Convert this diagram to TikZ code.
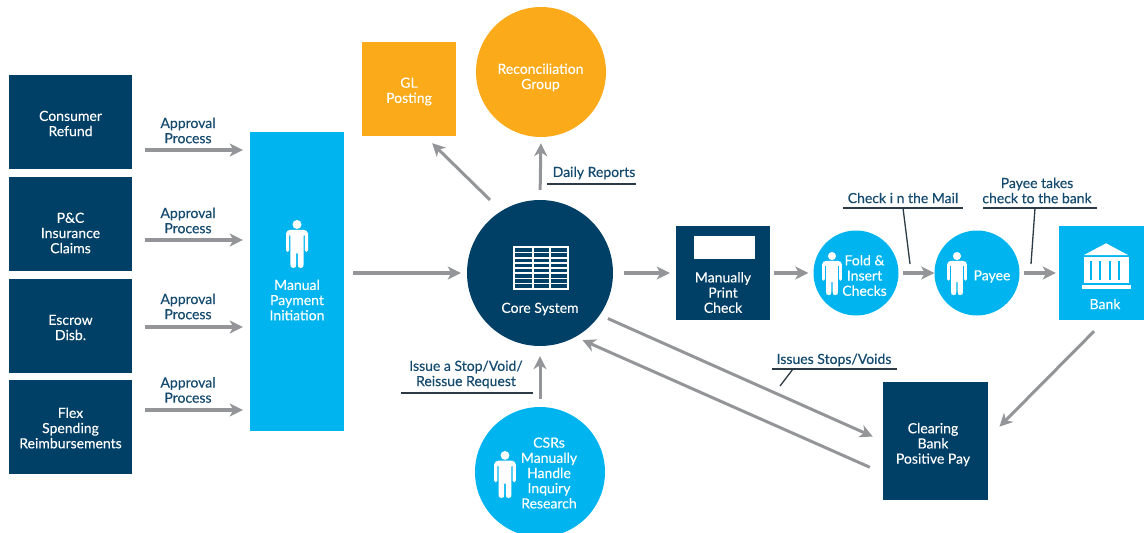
\documentclass[tikz,border=0pt]{standalone}
\usepackage{fontspec}
\setmainfont[FakeBold=0.12]{Lato}
\newfontfamily\lblfont[FakeBold=0.35]{Lato}
\usetikzlibrary{arrows.meta,calc}
\definecolor{navy}{HTML}{003F66}
\definecolor{sky}{HTML}{00B5EF}
\definecolor{amber}{HTML}{FBAA19}
\definecolor{flow}{HTML}{939598}
\definecolor{ink}{HTML}{164B70}
\definecolor{rulecol}{HTML}{2B3A45}
\tikzset{
  box/.style={draw=none,rectangle,inner sep=0pt},
  disc/.style={draw=none,circle,inner sep=0pt},
  wtext/.style={inner sep=0pt,align=center,text=white,font=\fontsize{14}{15.2}\selectfont},
  lbl/.style={inner sep=0pt,align=center,text=ink,font=\lblfont\fontsize{14}{15.2}\selectfont},
  arr/.style={draw=flow,line width=3.5pt,-{Stealth[length=13pt,width=13pt,inset=3.5pt]}},
  thinarr/.style={draw=flow,line width=3pt,-{Stealth[length=13pt,width=13pt,inset=4pt]}},
  lrule/.style={draw=rulecol,line width=1.3pt},
}
% person icon: #1 centre x, #2 top y, #3 scale
\newcommand{\personicon}[3]{%
  \begin{scope}[shift={(#1,#2)},scale=#3]
    \fill[white] (0,4.5) circle (4.5);
    \fill[white,rounded corners=1.6pt] (-11,12) -- (-8,9.8) -- (8,9.8) -- (11,12) -- (11,32) -- (7.8,32) -- (7.8,14) -- (6.6,14)
      -- (6.6,46) -- (5.5,48) -- (1.8,48) -- (0.8,46) -- (0.8,32) -- (-0.8,32) -- (-0.8,46) -- (-1.8,48) -- (-5.5,48) -- (-6.6,46)
      -- (-6.6,14) -- (-7.8,14) -- (-7.8,32) -- (-11,32) -- cycle;
  \end{scope}}
\begin{document}
\begin{tikzpicture}[x=1pt,y=-1pt]
\useasboundingbox (0,0) rectangle (1144,533);
\clip (0,0) rectangle (1144,533);
% left boxes
\node[box,fill=navy,minimum width=123pt,minimum height=94pt] (a1) at (70.5,122) {};
\node[wtext] (a1t) at (70.5,123.5) {Consumer\\Refund};
\node[box,fill=navy,minimum width=123pt,minimum height=94pt] (a2) at (70.5,224) {};
\node[wtext] (a2t) at (70.5,233) {P\&C\\Insurance\\Claims};
\node[box,fill=navy,minimum width=123pt,minimum height=94pt] (a3) at (70.5,326) {};
\node[wtext] (a3t) at (70.5,327.5) {Escrow\\Disb.};
\node[box,fill=navy,minimum width=123pt,minimum height=94pt] (a4) at (70.5,427) {};
\node[wtext] (a4t) at (70.5,428) {Flex\\Spending\\Reimbursements};
% approval labels
\node[lbl] (p1) at (188,130.5) {Approval\\Process};
\node[lbl] (p2) at (188,220.5) {Approval\\Process};
\node[lbl] (p3) at (188,306.5) {Approval\\Process};
\node[lbl] (p4) at (188,390) {Approval\\Process};
% manual payment
\node[box,fill=sky,minimum width=94pt,minimum height=299pt] (man) at (297,281.5) {};
\node[wtext] (mant) at (297,300) {Manual\\Payment\\Initiation};
\personicon{297}{220}{1}
% GL and reconciliation
\node[box,fill=amber,minimum width=94pt,minimum height=94pt] (gl) at (409,89) {};
\node[wtext] (glt) at (409,91.5) {GL\\Posting};
\node[disc,fill=amber,minimum size=130pt] (rec) at (541,72) {};
\node[wtext] (rect) at (540.5,77.5) {Reconciliation\\Group};
% core
\node[disc,fill=navy,minimum size=146pt] (core) at (540,273) {};
\node[wtext] (coret) at (540,309) {Core System};
\fill[white] (513,246) rectangle (569,290);
\foreach \r in {0,...,7}{\fill[navy] (515.3,248.3+\r*5.1) rectangle (532.4,252+\r*5.1);
  \fill[navy] (534,248.3+\r*5.1) rectangle (549.4,252+\r*5.1);
  \fill[navy] (551.2,248.3+\r*5.1) rectangle (566.8,252+\r*5.1);}
% print check
\node[box,fill=navy,minimum width=94pt,minimum height=94pt] (prn) at (723,273) {};
\fill[white] (694,236) rectangle (755,259);
\node[wtext] (prnt) at (723,292.5) {Manually\\Print\\Check};
% fold
\node[disc,fill=sky,minimum size=85pt] (fold) at (856,273) {};
\node[wtext] (foldt) at (864.5,275.5) {Fold \&\\Insert\\Checks};
\personicon{832}{252}{0.9}
% payee
\node[disc,fill=sky,minimum size=85pt] (pay) at (977,273) {};
\node[wtext] (payt) at (992,276.5) {Payee};
\personicon{957}{252}{0.9}
% bank
\node[box,fill=sky,minimum width=85pt,minimum height=94pt] (bank) at (1101.5,273) {};
\node[wtext] (bankt) at (1105,304) {Bank};
\fill[white] (1084,255) -- (1106,243.3) -- (1128,255) -- cycle;
\fill[white] (1083.5,256.5) rectangle (1128.5,283);
\foreach \c in {1089.5,1099,1108.5,1118}{\fill[sky] (\c,260.5) rectangle (\c+2.2,279.5);}
\fill[white] (1082,285) rectangle (1131,289);
% CSR
\node[disc,fill=sky,minimum size=130pt] (csr) at (540,472) {};
\node[wtext] (csrt) at (549,473) {CSRs\\Manually\\Handle\\Inquiry\\Research};
\personicon{505}{451}{0.98}
% clearing
\node[box,fill=navy,minimum width=105pt,minimum height=118pt] (clr) at (935.5,441) {};
\node[wtext] (clrt) at (933,444.5) {Clearing\\Bank\\Positive Pay};
% labels
\node[lbl] (ldr) at (594,173) {Daily Reports};
\node[lbl] (lmail) at (903,198) {Check i n the Mail};
\node[lbl] (lpay) at (1037,190.5) {Payee takes\\check to the bank};
\node[lbl] (liss) at (466,374.5) {Issue a Stop/Void/\\Reissue Request};
\node[lbl] (lstop) at (834,360) {Issues Stops/Voids};
% label rules and leaders
\coordinate (mailend) at (910,264);
\coordinate (payend) at (1031,264);
\coordinate (stopend) at (780,386);
\draw[lrule] (547,184) -- (636,184);
\draw[lrule] (843,208) -- (963,208);
\draw[lrule] (903,208) -- (mailend);
\draw[lrule] (983,208) -- (1097,208);
\draw[lrule] (1035,208) -- (payend);
\draw[lrule] (401,393) -- (533,393);
\draw[lrule] (772,369) -- (897,369);
\draw[lrule] (793,369) -- (stopend);
% flows
\coordinate (y1) at (0,150);
\coordinate (y2) at (0,240);
\coordinate (y3) at (0,327);
\coordinate (y4) at (0,410);
\draw[arr,shorten <=13pt,shorten >=7pt] (a1.east |- y1) -- (man.west |- y1);
\draw[arr,shorten <=13pt,shorten >=7pt] (a2.east |- y2) -- (man.west |- y2);
\draw[arr,shorten <=13pt,shorten >=7pt] (a3.east |- y3) -- (man.west |- y3);
\draw[arr,shorten <=13pt,shorten >=7pt] (a4.east |- y4) -- (man.west |- y4);
\draw[arr,shorten <=9pt,shorten >=6pt] (man.east |- core.center) -- (core.west);
\draw[arr,shorten <=11pt,shorten >=6pt] (core.east) -- (prn.west);
\draw[arr,shorten <=4pt,shorten >=5pt] (prn.east) -- (fold.west);
\draw[arr,shorten <=4pt,shorten >=0pt] (fold.east) -- (pay.west);
\draw[arr,shorten <=4pt,shorten >=3pt] (pay.east) -- (bank.west);
\draw[thinarr,shorten <=15.7pt,shorten >=10pt] (core.122) -- ($(gl.south)+(16,0)$);
\draw[thinarr,shorten <=10pt,shorten >=6pt] (core.north) -- (rec.south);
\draw[thinarr,shorten <=8pt,shorten >=10pt] (csr.north) -- (core.south);
\draw[thinarr,shorten <=8.7pt,shorten >=11pt] (core.-35.8) -- (clr.west);
\draw[thinarr,shorten <=14.2pt,shorten >=7.7pt] ($(clr.west)+(0,32)$) -- (core.-61.3);
\draw[thinarr,shorten <=15.5pt,shorten >=16pt] ($(bank.south)+(3.5,0)$) -- ($(clr.east)+(0,-3)$);
\end{tikzpicture}
\end{document}
